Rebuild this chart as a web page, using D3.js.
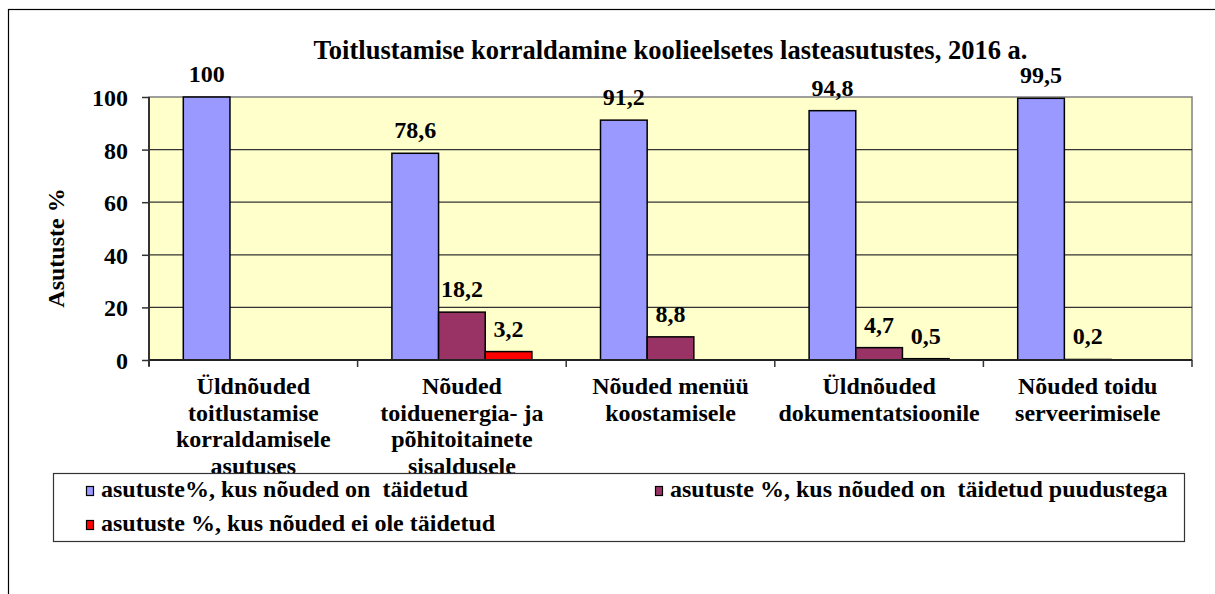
<!DOCTYPE html>
<html>
<head>
<meta charset="utf-8">
<script src="https://cdn.jsdelivr.net/npm/d3@7"></script>
<style>
  body { margin: 0; background: white; }
</style>
</head>
<body>
<div id="grafico"></div>
<script>
// Data
const categorias = [
  ["Üldnõuded", "toitlustamise", "korraldamisele", "asutuses"],
  ["Nõuded", "toiduenergia- ja", "põhitoitainete", "sisaldusele"],
  ["Nõuded menüü", "koostamisele"],
  ["Üldnõuded", "dokumentatsioonile"],
  ["Nõuded toidu", "serveerimisele"],
]
const series = [
  "asutuste%, kus nõuded on  täidetud",
  "asutuste %, kus nõuded on  täidetud puudustega",
  "asutuste %, kus nõuded ei ole täidetud",
]
const taidetud = [100, 78.6, 91.2, 94.8, 99.5]
const puudustega = [null, 18.2, 8.8, 4.7, 0.2]
const eiOle = [null, 3.2, null, 0.5, null]
const yTicks = [0, 20, 40, 60, 80, 100]
const titulo = "Toitlustamise korraldamine koolieelsetes lasteasutustes, 2016 a."
const yTitulo = "Asutuste %"

const colores = ["#9999FF", "#993366", "#FF0000"]
const valores = [taidetud, puudustega, eiOle]

const anchoTotal = 1215
const altoTotal = 594
const margins = { top: 97, left: 149, right: 23, bottom: 234 }
const ancho = anchoTotal - margins.left - margins.right
const alto = altoTotal - margins.top - margins.bottom

const svg = d3.select("#grafico")
  .append("svg")
  .attr("width", anchoTotal)
  .attr("height", altoTotal)
  .style("font-family", '"Liberation Serif", "Times New Roman", serif')
  .style("font-weight", "bold")

// outer frame (runs past the right/bottom edges)
svg.append("rect")
  .attr("x", 8.5).attr("y", 9.5)
  .attr("width", 1230).attr("height", 620)
  .attr("fill", "white").attr("stroke", "black").attr("stroke-width", 1.2)

const g = svg.append("g")
  .attr("transform", `translate(${margins.left}, ${margins.top})`)

const idx = d3.range(categorias.length)
const x0 = d3.scaleBand().domain(idx).range([0, ancho])
const x1 = d3.scaleBand().domain(d3.range(series.length))
  .range([0, x0.bandwidth()]).paddingOuter(0.735)
const y = d3.scaleLinear().domain([0, 100]).range([alto, 0])

// plot background
g.append("rect")
  .attr("width", ancho).attr("height", alto)
  .attr("fill", "#FFFFCC").attr("stroke", "#808080").attr("stroke-width", 1.5)

// gridlines
g.append("g")
  .selectAll("line")
  .data(yTicks.filter((d) => d > 0 && d < 100))
  .join("line")
  .attr("x1", 0).attr("x2", ancho)
  .attr("y1", (d) => y(d)).attr("y2", (d) => y(d))
  .attr("stroke", "#333").attr("stroke-width", 1.2)

// bars
const filas = []
valores.forEach((serie, s) => serie.forEach((v, c) => {
  if (v !== null) filas.push({ s, c, v })
}))

g.append("g")
  .selectAll("rect")
  .data(filas)
  .join("rect")
  .attr("x", (d) => x0(d.c) + x1(d.s))
  .attr("y", (d) => y(d.v))
  .attr("width", x1.bandwidth())
  .attr("height", (d) => alto - y(d.v))
  .attr("fill", (d) => colores[d.s])
  .attr("stroke", "black").attr("stroke-width", 1.5)

// value labels
g.append("g")
  .selectAll("text")
  .data(filas)
  .join("text")
  .attr("x", (d) => x0(d.c) + x1(d.s) + x1.bandwidth() / 2)
  .attr("y", (d) => y(d.v) - 15)
  .attr("text-anchor", "middle")
  .style("font-size", "24px")
  .text((d) => String(d.v).replace(".", ","))

// y axis
const yAxis = d3.axisLeft(y).tickValues(yTicks).tickSize(7).tickPadding(14)
const yAxisGroup = g.append("g").call(yAxis)
yAxisGroup.attr("font-family", null).attr("font-size", null)
yAxisGroup.select(".domain").attr("d", `M0,0V${alto + 6}`).attr("stroke", "#333").attr("stroke-width", 2)
yAxisGroup.selectAll(".tick line").attr("stroke", "#333").attr("stroke-width", 1.5)
yAxisGroup.selectAll("text")
  .style("font-size", "24px")
  .attr("fill", "black")
  .attr("dy", "0.35em")

// x axis line + boundary ticks
const xAxisGroup = g.append("g").attr("transform", `translate(0, ${alto})`)
xAxisGroup.append("line")
  .attr("x1", 0).attr("x2", ancho)
  .attr("stroke", "#222").attr("stroke-width", 2)
xAxisGroup.selectAll(".lim")
  .data(d3.range(categorias.length + 1))
  .join("line")
  .attr("x1", (d) => d * x0.step()).attr("x2", (d) => d * x0.step())
  .attr("y1", 0).attr("y2", 7)
  .attr("stroke", "#333").attr("stroke-width", 1.5)

// category labels
const etiquetas = xAxisGroup.selectAll(".cat")
  .data(categorias)
  .join("text")
  .attr("x", (d, i) => x0(i) + x0.bandwidth() / 2)
  .attr("y", 34)
  .attr("text-anchor", "middle")
  .style("font-size", "24px")
etiquetas.selectAll("tspan")
  .data((d) => d)
  .join("tspan")
  .attr("x", function () { return this.parentNode.getAttribute("x") })
  .attr("dy", (d, i) => (i === 0 ? 0 : 26.5))
  .text((d) => d)

// title
svg.append("text")
  .attr("x", margins.left + ancho / 2)
  .attr("y", 59)
  .attr("text-anchor", "middle")
  .style("font-size", "26.5px")
  .text(titulo)

// y axis title
svg.append("text")
  .attr("transform", "translate(64, 248) rotate(-90)")
  .attr("text-anchor", "middle")
  .style("font-size", "24px")
  .text(yTitulo)

// legend
const leyenda = svg.append("g")
leyenda.append("rect")
  .attr("x", 53.5).attr("y", 473.5)
  .attr("width", 1131).attr("height", 68)
  .attr("fill", "white").attr("stroke", "#333").attr("stroke-width", 1.2)

const posLeyenda = [[86, 497], [655, 497], [86, 531]]
const items = leyenda.selectAll(".item")
  .data(series)
  .join("g")
  .attr("transform", (d, i) => `translate(${posLeyenda[i][0]}, ${posLeyenda[i][1]})`)
items.append("rect")
  .attr("x", 0.5).attr("y", -10.5)
  .attr("width", 7).attr("height", 9)
  .attr("fill", (d, i) => colores[i])
  .attr("stroke", "black").attr("stroke-width", 1.2)
items.append("text")
  .attr("x", 15)
  .style("font-size", "24px")
  .style("white-space", "pre")
  .text((d) => d)
</script>
</body>
</html>
